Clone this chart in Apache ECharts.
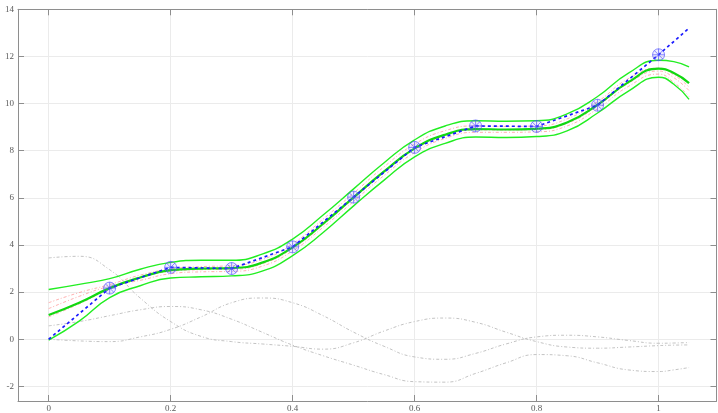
<!DOCTYPE html>
<html>
<head>
<meta charset="utf-8">
<script src="https://cdn.jsdelivr.net/npm/echarts@6/dist/echarts.min.js"></script>
<style>
  html, body { margin: 0; padding: 0; background: #fff; }
  #chart { width: 718px; height: 413px; }
</style>
</head>
<body>
<div id="chart"></div>
<script>
// Sample positions of the smooth curves
const xs = [0, 0.05, 0.1, 0.15, 0.2, 0.25, 0.3, 0.35, 0.4, 0.45, 0.5, 0.55,
            0.6, 0.65, 0.7, 0.75, 0.8, 0.85, 0.9, 0.95, 1.0, 1.025, 1.05];

// Posterior mean and upper / lower confidence bounds
const meanCurve  = [1.03, 1.55, 2.17, 2.62, 2.93, 3.00, 3.02, 3.25, 3.90, 4.90, 6.02, 7.12,
                    8.10, 8.68, 8.92, 8.90, 8.93, 9.20, 9.95, 10.90, 11.48, 11.30, 10.87];
const upperCurve = [2.11, 2.33, 2.57, 2.97, 3.26, 3.35, 3.35, 3.61, 4.25, 5.27, 6.38, 7.49,
                    8.46, 9.05, 9.27, 9.25, 9.27, 9.56, 10.30, 11.28, 11.84, 11.78, 11.56];
const lowerCurve = [-0.04, 0.77, 1.77, 2.27, 2.60, 2.65, 2.69, 2.89, 3.55, 4.53, 5.66, 6.75,
                    7.74, 8.31, 8.58, 8.56, 8.60, 8.84, 9.60, 10.52, 11.12, 10.82, 10.18];

// Posterior sample paths
const sample1 = [1.55, 1.98, 2.32, 2.72, 2.98, 3.08, 3.12, 3.38, 4.05, 5.10, 6.20, 7.32,
                 8.28, 8.85, 9.05, 9.03, 9.05, 9.35, 10.08, 11.05, 11.50, 11.22, 10.70];
const sample2 = [1.30, 1.82, 2.25, 2.50, 2.78, 2.86, 2.88, 3.10, 3.75, 4.75, 5.85, 6.95,
                 7.92, 8.52, 8.78, 8.78, 8.80, 9.05, 9.78, 10.72, 11.25, 10.90, 10.30];
const sample3 = [0.95, 1.50, 2.12, 2.60, 2.88, 2.95, 2.97, 3.20, 3.85, 4.85, 5.97, 7.08,
                 8.05, 8.64, 8.88, 8.88, 8.90, 9.16, 9.90, 10.85, 11.38, 11.10, 10.55];

// Basis / prior curves drawn in grey
const basisA = [3.45, 3.52, 2.95, 1.75, 0.75, 0.12, -0.10, -0.20, -0.30, -0.42, -0.15, 0.35,
                0.75, 0.90, 0.72, 0.30, -0.10, -0.33, -0.38, -0.33, -0.27, -0.25, -0.24];
const basisB = [0.00, -0.07, -0.10, 0.10, 0.42, 0.95, 1.55, 1.75, 1.55, 1.00, 0.30, -0.30,
                -0.75, -0.85, -0.60, -0.20, 0.10, 0.17, 0.10, -0.05, -0.17, -0.16, -0.14];
const basisC = [0.57, 0.75, 1.00, 1.25, 1.39, 1.25, 0.85, 0.30, -0.25, -0.70, -1.10, -1.50,
                -1.80, -1.82, -1.45, -1.00, -0.65, -0.70, -1.00, -1.30, -1.37, -1.30, -1.20];

// Observations and linear interpolant (extended past the last point)
const obsX = [0.1, 0.2, 0.3, 0.4, 0.5, 0.6, 0.7, 0.8, 0.9, 1.0];
const obsY = [2.17, 3.05, 3.00, 3.92, 6.03, 8.14, 9.05, 9.03, 9.93, 12.07];
const linX = [0, 0.1, 0.2, 0.3, 0.4, 0.5, 0.6, 0.7, 0.8, 0.9, 1.0, 1.05];
const linY = [0, 2.17, 3.05, 3.00, 3.92, 6.03, 8.14, 9.05, 9.03, 9.93, 12.07, 13.2];

// Tick positions
const xTicks = [0, 0.2, 0.4, 0.6, 0.8, 1];
const yTicks = [-2, 0, 2, 4, 6, 8, 10, 12, 14];

const pairs = (x, y) => x.map((v, i) => [v, y[i]]);

const axisColor = '#8e8e8e';
const labelFont = { fontFamily: 'Liberation Serif', fontSize: 9, color: '#5a5a5a' };

function curve(name, ys, color, width, dash, z) {
  return {
    name, type: 'line', data: pairs(xs, ys), smooth: true, showSymbol: false,
    symbol: 'none', z: z, silent: true,
    lineStyle: { color, width, type: dash }
  };
}

const markerPath = 'path://M-1,0 A1,1 0 1,1 1,0 A1,1 0 1,1 -1,0 Z M0,-1 L0,1 M-1,0 L1,0 M-0.7,-0.7 L0.7,0.7 M-0.7,0.7 L0.7,-0.7';

function frameAxis(position, isX, showLabels) {
  const ticks = isX ? xTicks : yTicks;
  return {
    type: 'value',
    min: isX ? -0.0503 : -2.62,
    max: isX ? 1.095 : 14,
    position,
    axisLine: { show: true, onZero: false, lineStyle: { color: axisColor, width: 1 } },
    axisTick: { show: true, inside: true, length: 6, customValues: ticks, lineStyle: { color: axisColor } },
    axisLabel: showLabels
      ? Object.assign({ customValues: ticks, margin: isX ? 3 : 4 }, labelFont)
      : { show: false },
    splitLine: showLabels
      ? { show: true, lineStyle: { color: '#ebebeb', width: 1 } }
      : { show: false }
  };
}

const chart = echarts.init(document.getElementById('chart'), null, { renderer: 'canvas' });
chart.setOption({
  animation: false,
  backgroundColor: '#fff',
  grid: { left: 18, right: 1.5, top: 9.3, bottom: 10.3, containLabel: false },
  xAxis: [frameAxis('bottom', true, true), frameAxis('top', true, false)],
  yAxis: [frameAxis('left', false, true), frameAxis('right', false, false)],
  series: [
    curve('basisA', basisA, '#b4b4b4', 0.8, [3, 2, 1, 2], 1),
    curve('basisB', basisB, '#b4b4b4', 0.8, [3, 2, 1, 2], 1),
    curve('basisC', basisC, '#b4b4b4', 0.8, [3, 2, 1, 2], 1),
    curve('sample1', sample1, 'rgba(255,120,120,0.65)', 0.9, [3, 2, 1, 2], 2),
    curve('sample2', sample2, 'rgba(255,120,120,0.65)', 0.9, [3, 2, 1, 2], 2),
    curve('sample3', sample3, 'rgba(255,120,120,0.65)', 0.9, [3, 2, 1, 2], 2),
    curve('upper', upperCurve, '#22ee22', 1.4, 'solid', 3),
    curve('lower', lowerCurve, '#22ee22', 1.4, 'solid', 3),
    curve('mean', meanCurve, '#11d811', 2.2, 'solid', 4),
    {
      name: 'linear', type: 'line', data: pairs(linX, linY), showSymbol: false, symbol: 'none',
      z: 5, silent: true,
      lineStyle: { color: '#1a1aff', width: 1.7, type: [3, 3] }
    },
    {
      name: 'obs', type: 'scatter', data: pairs(obsX, obsY), z: 6, silent: true,
      symbol: markerPath, symbolSize: 12,
      itemStyle: { color: 'rgba(90,90,255,0.12)', borderColor: '#4a4aff', borderWidth: 0.8 }
    }
  ]
});
</script>
</body>
</html>
